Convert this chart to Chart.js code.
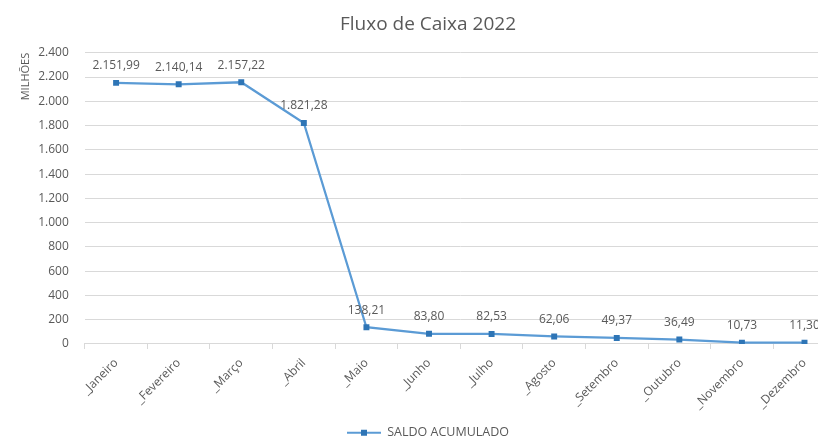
<!DOCTYPE html>
<html>
<head>
<meta charset="utf-8">
<script src="https://cdn.jsdelivr.net/npm/chart.js@4.4.1/dist/chart.umd.min.js"></script>
<style>
  html, body { margin: 0; padding: 0; overflow: hidden; background: #fff; }
  #wrap { width: 840px; height: 439px; position: relative; }
</style>
</head>
<body>
<div id="wrap"><canvas id="c"></canvas></div>
<script>
const categories = ['_Janeiro', '_Fevereiro', '_Março', '_Abril', '_Maio', '_Junho', '_Julho', '_Agosto', '_Setembro', '_Outubro', '_Novembro', '_Dezembro'];
const saldoAcumulado = [2151.99, 2140.14, 2157.22, 1821.28, 138.21, 83.80, 82.53, 62.06, 49.37, 36.49, 10.73, 11.30];
const seriesName = 'SALDO ACUMULADO';
const chartTitle = 'Fluxo de Caixa 2022';
const yAxisTitle = 'MILHÕES';
const yMin = 0, yMax = 2400, yStep = 200;

const FONT = '"Open Sans", "Noto Sans", sans-serif';
const GRAY = '#595959';

function fmtBR(v, dec) {
  const neg = v < 0;
  let s = Math.abs(v).toFixed(dec);
  let [ip, fp] = s.split('.');
  ip = ip.replace(/\B(?=(\d{3})+(?!\d))/g, '.');
  return (neg ? '-' : '') + ip + (fp ? ',' + fp : '');
}

// legend symbol: line with square marker
const sym = document.createElement('canvas');
sym.width = 34; sym.height = 8;
(function(){
  const g = sym.getContext('2d');
  g.strokeStyle = '#5B9BD5'; g.lineWidth = 2;
  g.beginPath(); g.moveTo(0, 4); g.lineTo(34, 4); g.stroke();
  g.fillStyle = '#2E75B6'; g.fillRect(14, 1, 6, 6);
})();

const dataLabels = {
  id: 'dataLabels',
  afterDatasetsDraw(chart) {
    const ctx = chart.ctx;
    const meta = chart.getDatasetMeta(0);
    ctx.save();
    ctx.font = '12px ' + FONT;
    ctx.fillStyle = GRAY;
    ctx.textAlign = 'center';
    ctx.textBaseline = 'middle';
    meta.data.forEach((pt, i) => {
      ctx.fillText(fmtBR(saldoAcumulado[i], 2), pt.x, pt.y - 17);
    });
    ctx.restore();
  }
};

new Chart(document.getElementById('c'), {
  type: 'line',
  data: {
    labels: categories,
    datasets: [{
      label: seriesName,
      data: saldoAcumulado,
      borderColor: '#5B9BD5',
      borderWidth: 2.25,
      backgroundColor: '#2E75B6',
      pointStyle: 'rect',
      pointRadius: 4.2,
      pointBackgroundColor: '#2E75B6',
      pointBorderColor: '#2E75B6',
      pointBorderWidth: 0,
      tension: 0
    }]
  },
  options: {
    responsive: true,
    maintainAspectRatio: false,
    animation: false,
    layout: { padding: { left: 19, right: 3, top: 13, bottom: -10 } },
    plugins: {
      title: {
        display: true,
        text: chartTitle,
        color: GRAY,
        font: { family: FONT, size: 19, weight: 'normal' },
        padding: { top: 0, bottom: 17 }
      },
      legend: {
        position: 'bottom',
        labels: {
          usePointStyle: true,
          pointStyle: sym,
          pointStyleWidth: 34,
          color: GRAY,
          font: { family: FONT, size: 12.5 },
          padding: 7.5,
          boxHeight: 8
        }
      },
      tooltip: { enabled: false }
    },
    scales: {
      x: {
        offset: true,
        grid: { drawOnChartArea: false, drawTicks: true, tickLength: 5, offset: true, color: '#D9D9D9' },
        border: { display: true, color: '#D9D9D9' },
        ticks: {
          color: GRAY,
          font: { family: FONT, size: 12 },
          maxRotation: 45, minRotation: 45,
          autoSkip: false,
          padding: 7
        }
      },
      y: {
        min: yMin, max: yMax,
        grid: { color: '#D9D9D9', drawTicks: false },
        border: { display: false },
        ticks: {
          stepSize: yStep,
          color: GRAY,
          font: { family: FONT, size: 12 },
          padding: 16,
          callback: (v) => fmtBR(v, 0)
        },
        title: {
          display: true,
          text: yAxisTitle,
          align: 'end',
          color: GRAY,
          font: { family: FONT, size: 11 },
          padding: { top: 0, bottom: -10 }
        }
      }
    }
  },
  plugins: [dataLabels]
});
</script>
</body>
</html>
